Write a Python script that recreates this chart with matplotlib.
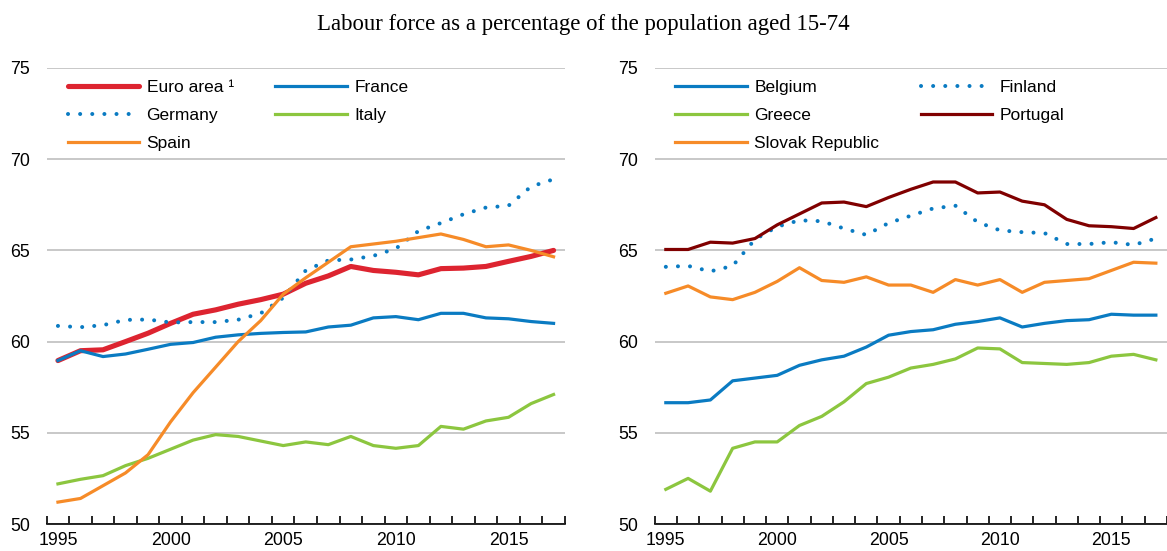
import matplotlib.pyplot as plt
import numpy as np

years = list(range(1995, 2018))

# left panel
euro_area = [58.96, 59.5, 59.55, 60.0, 60.46, 61.0, 61.5, 61.74, 62.05, 62.3, 62.6, 63.2,
             63.6, 64.12, 63.9, 63.8, 63.66, 64.0, 64.03, 64.12, 64.4, 64.67, 65.0]
france = [58.96, 59.5, 59.18, 59.32, 59.58, 59.85, 59.95, 60.24, 60.37, 60.45, 60.5, 60.53,
          60.8, 60.9, 61.3, 61.37, 61.2, 61.55, 61.55, 61.3, 61.25, 61.1, 61.0]
germany = [60.86, 60.79, 60.9, 61.19, 61.21, 61.05, 61.07, 61.07, 61.2, 61.55, 62.4, 63.9,
           64.45, 64.5, 64.7, 65.1, 66.06, 66.5, 66.98, 67.35, 67.45, 68.5, 68.9]
italy = [52.2, 52.45, 52.65, 53.2, 53.6, 54.1, 54.6, 54.9, 54.8, 54.55, 54.3, 54.5,
         54.35, 54.8, 54.3, 54.15, 54.3, 55.35, 55.2, 55.65, 55.85, 56.6, 57.1]
spain = [51.2, 51.4, 52.1, 52.8, 53.8, 55.6, 57.2, 58.6, 60.0, 61.15, 62.6, 63.5,
         64.35, 65.2, 65.35, 65.5, 65.7, 65.9, 65.6, 65.2, 65.3, 65.0, 64.65]

# right panel
belgium = [56.65, 56.65, 56.8, 57.85, 58.0, 58.15, 58.7, 59.0, 59.2, 59.7, 60.35, 60.55,
           60.65, 60.95, 61.1, 61.3, 60.8, 61.0, 61.15, 61.2, 61.5, 61.45, 61.45]
finland = [64.1, 64.15, 63.85, 64.15, 65.6, 66.3, 66.65, 66.6, 66.2, 65.85, 66.5, 66.9,
           67.3, 67.45, 66.55, 66.1, 66.0, 65.95, 65.35, 65.35, 65.45, 65.3, 65.65]
greece = [51.9, 52.5, 51.8, 54.15, 54.5, 54.5, 55.4, 55.9, 56.7, 57.7, 58.05, 58.55,
          58.75, 59.05, 59.65, 59.6, 58.85, 58.8, 58.75, 58.85, 59.2, 59.3, 59.0]
portugal = [65.05, 65.05, 65.45, 65.4, 65.65, 66.4, 67.0, 67.6, 67.65, 67.4, 67.9, 68.35,
            68.75, 68.75, 68.15, 68.2, 67.7, 67.5, 66.7, 66.35, 66.3, 66.2, 66.8]
slovak = [62.65, 63.05, 62.45, 62.3, 62.7, 63.3, 64.05, 63.35, 63.25, 63.55, 63.1, 63.1,
          62.7, 63.4, 63.1, 63.4, 62.7, 63.25, 63.35, 63.45, 63.9, 64.35, 64.3]

RED = '#dd2430'
BLUE = '#0a7bc2'
GREEN = '#8cc63f'
ORANGE = '#f68b28'
DARKRED = '#800000'

plt.rcParams['font.family'] = ['Liberation Sans', 'DejaVu Sans']

fig = plt.figure(figsize=(11.67, 5.51), dpi=100)
ax1 = fig.add_axes([0.040, 0.049, 0.444, 0.8276])
ax2 = fig.add_axes([0.561, 0.049, 0.439, 0.8276])

fig.text(0.5, 1 - 30 / 551, 'Labour force as a percentage of the population aged 15-74',
         ha='center', va='baseline', fontsize=16.4, family='Liberation Serif')

x = np.arange(len(years))
dot = dict(linestyle=(0, (0.01, 3.0)), dash_capstyle='round', lw=2.9)

def style(ax):
    ax.set_xlim(-0.5, len(years) - 0.5)
    ax.set_ylim(50, 75)
    ax.set_yticks([50, 55, 60, 65, 70, 75])
    ax.grid(axis='y', color='#c8c8c8', lw=1.4)
    ax.set_axisbelow(True)
    for s in ['top', 'right', 'left']:
        ax.spines[s].set_visible(False)
    ax.spines['bottom'].set_linewidth(1.2)
    ax.set_xticks([i for i, y in enumerate(years) if y % 5 == 0])
    ax.set_xticklabels([str(y) for y in years if y % 5 == 0])
    ax.set_xticks(np.arange(-0.5, len(years)), minor=True)
    ax.tick_params(axis='x', which='major', length=0, labelsize=12.8, pad=6)
    ax.tick_params(axis='x', which='minor', direction='in', length=6, width=1.2)
    ax.tick_params(axis='y', length=0, labelsize=12.8, pad=12)

def legend(ax, handles):
    ax.legend(handles, [h.get_label() for h in handles],
              ncol=2, loc='upper left', bbox_to_anchor=(0.027, 0.99), frameon=False,
              fontsize=12.5, handlelength=4.1, handletextpad=0.45, columnspacing=2.4,
              labelspacing=0.74, borderaxespad=0)

h_eu, = ax1.plot(x, euro_area, color=RED, lw=3.7, label='Euro area ¹', solid_capstyle='round')
h_fr, = ax1.plot(x, france, color=BLUE, lw=2.3, label='France')
h_de, = ax1.plot(x, germany, color=BLUE, label='Germany', **dot)
h_it, = ax1.plot(x, italy, color=GREEN, lw=2.3, label='Italy')
h_es, = ax1.plot(x, spain, color=ORANGE, lw=2.3, label='Spain')
style(ax1)
legend(ax1, [h_eu, h_de, h_es, h_fr, h_it])

h_be, = ax2.plot(x, belgium, color=BLUE, lw=2.3, label='Belgium')
h_fi, = ax2.plot(x, finland, color=BLUE, label='Finland', **dot)
h_gr, = ax2.plot(x, greece, color=GREEN, lw=2.3, label='Greece')
h_pt, = ax2.plot(x, portugal, color=DARKRED, lw=2.3, label='Portugal')
h_sk, = ax2.plot(x, slovak, color=ORANGE, lw=2.3, label='Slovak Republic')
style(ax2)
legend(ax2, [h_be, h_gr, h_sk, h_fi, h_pt])

fig.savefig('out.png', dpi=100)
